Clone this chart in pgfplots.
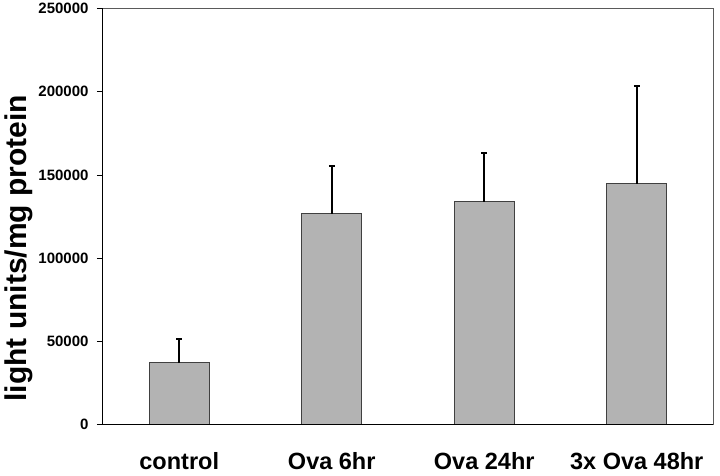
\documentclass[border=0pt]{standalone}
\usepackage{fontspec}
\setmainfont{Liberation Sans}
\usepackage{pgfplots}
\pgfplotsset{compat=1.18}
\definecolor{barfill}{HTML}{B3B3B3}
\definecolor{framegray}{HTML}{5A5A5A}

\begin{document}
\begin{tikzpicture}
\begin{axis}[
  scale only axis,
  width=610pt, height=416pt,
  ymin=0, ymax=250000,
  ytick={0,50000,100000,150000,200000,250000},
  yticklabels={0,50000,100000,150000,200000,250000},
  scaled y ticks=false,
  yticklabel style={font=\fontsize{15}{15}\selectfont\bfseries, xshift=-5pt},
  xmin=-0.5, xmax=3.5,
  xtick={0,1,2,3},
  xticklabels={control,Ova 6hr,Ova 24hr,3x Ova 48hr},
  xticklabel style={font=\fontsize{23.5}{24}\selectfont\bfseries, yshift=-18pt},
  x tick style={draw=none},
  minor xtick={-0.5,0.5,1.5,2.5,3.5},
  minor x tick style={black, line width=0.8pt},
  minor tick length=7pt,
  major tick length=6pt,
  y tick style={black, line width=0.8pt},
  tick align=outside,
  xtick pos=bottom, ytick pos=left,
  axis line style={black, line width=1pt},
  ybar, bar width=60pt,
  clip=false,
]
\addplot[
  fill=barfill, draw=black!75, line width=0.7pt,
  error bars/.cd, y dir=plus, y explicit,
  error bar style={black, line width=2pt},
  error mark=-,
  error mark options={rotate=90, black, line width=2pt, mark size=3pt},
] coordinates {
  (0, 37300) +- (0, 14400)
  (1, 126800) +- (0, 28800)
  (2, 134000) +- (0, 29500)
  (3, 144800) +- (0, 58900)
};
\draw[framegray, line width=1pt] (rel axis cs:0,1) -- (rel axis cs:1,1) -- (rel axis cs:1,0);
\draw[black, line width=1pt] (rel axis cs:0,0) -- (rel axis cs:1,0);
\node[rotate=90, font=\fontsize{30}{30}\selectfont\bfseries] at ([xshift=-84pt]rel axis cs:0,0.424) {light units/mg protein};
\end{axis}
\path (-103pt,-51pt) rectangle (617pt,424pt);
\end{tikzpicture}
\end{document}
